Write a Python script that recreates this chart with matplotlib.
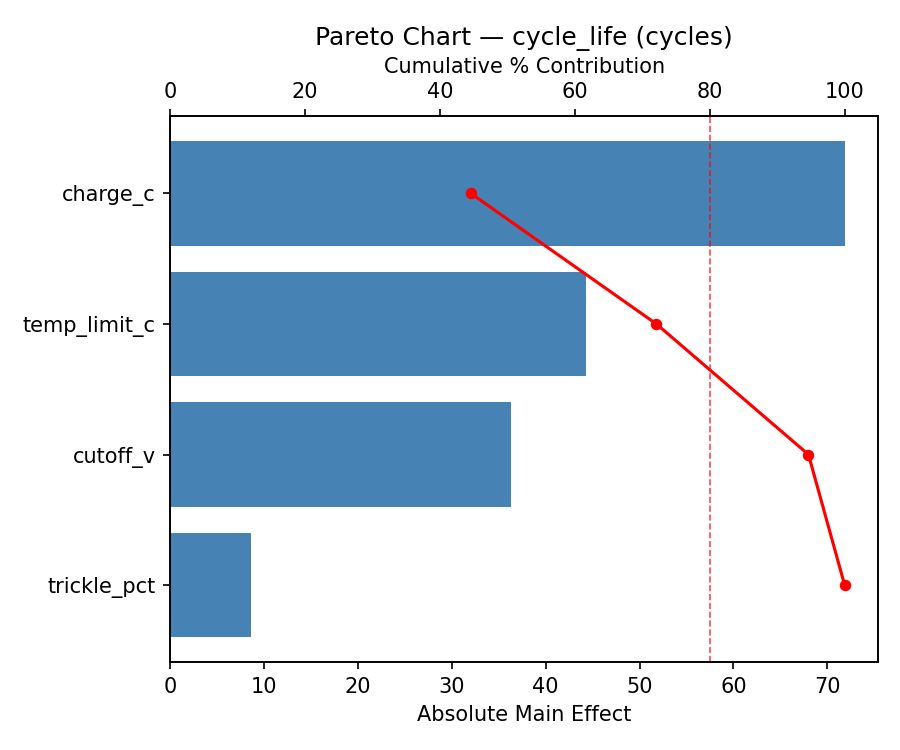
import matplotlib.pyplot as plt
import numpy as np

factors = ['charge_c', 'temp_limit_c', 'cutoff_v', 'trickle_pct']
effects = [71.85, 44.35, 36.35, 8.65]

cum_pct = np.cumsum(effects) / np.sum(effects) * 100

fig, ax = plt.subplots(figsize=(6, 5), dpi=150)
ypos = np.arange(len(factors))
ax.barh(ypos, effects, color='steelblue', height=0.8)
ax.set_yticks(ypos)
ax.set_yticklabels(factors)
ax.invert_yaxis()
ax.set_xlabel('Absolute Main Effect')

ax2 = ax.twiny()
ax2.plot(cum_pct, ypos, color='red', marker='o', markersize=4.5, linewidth=1.5)
ax2.axvline(80, color='red', linestyle='--', linewidth=0.8, alpha=0.7)
ax2.set_xlim(0, 105)
ax2.set_xlabel('Cumulative % Contribution')
ax2.set_title('Pareto Chart \u2014 cycle_life (cycles)', fontsize=12)

plt.subplots_adjust(left=0.189, right=0.976, top=0.845, bottom=0.117)
plt.savefig('out.png', dpi=150)
